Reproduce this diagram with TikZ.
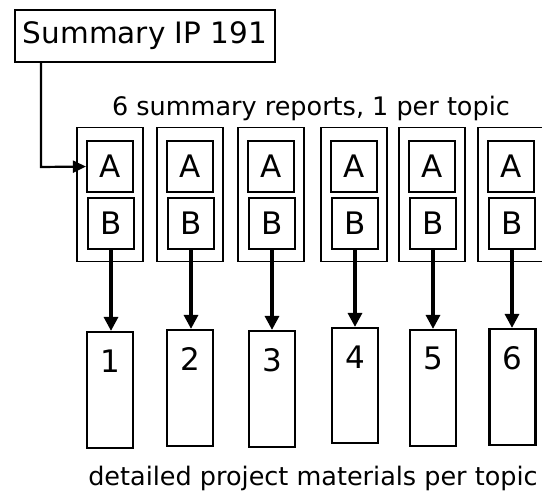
\documentclass[tikz,border=0pt]{standalone}
\usepackage{fontspec}
\setmainfont{DejaVu Sans}
\usetikzlibrary{arrows.meta}

\tikzset{
  part/.style={draw, line width=2.2pt, minimum width=46pt, minimum height=51pt, inner sep=0pt, font=\fontsize{31}{33}\selectfont},
  report/.style={draw, line width=1.8pt, minimum width=66pt, minimum height=134pt, inner sep=0pt},
  topicbox/.style={draw, line width=2.2pt, minimum width=46pt, inner sep=0pt},
  down/.style={line width=3.2pt, -{Triangle[length=14pt,width=14pt]}},
  caption/.style={font=\fontsize{25.5}{27}\selectfont, anchor=base}
}

\begin{document}
\begin{tikzpicture}[x=1pt, y=-1pt]
\useasboundingbox (0,0) rectangle (542,491);
\clip (0,0) rectangle (542,491);

\node[draw, line width=2pt, minimum width=260pt, minimum height=52pt, inner sep=0pt,
      font=\fontsize{29.5}{31}\selectfont] (sum) at (145,36) {Summary IP 191};

\node[caption] (toptext) at (311,115) {6 summary reports, 1 per topic};
\node[caption] (bottomtext) at (313,485) {detailed project materials per topic};

% one column per topic
\foreach \n/\x/\xd/\yd/\hd in {1/110/110/390/116pt, 2/190/190/388/116pt, 3/271/272/389/116pt,
                              4/354/355/385.5/115pt, 5/432/433/388/116pt, 6/511/512.5/387/116pt} {
  \node[report] (out\n) at (\x,194.5) {};
  \node[part] (a\n) at (\x,166.5) {A};
  \node[part] (b\n) at (\x+1,223.5) {B};
  \node[topicbox, minimum height=\hd] (det\n) at (\xd,\yd) {};
  \node[font=\fontsize{31}{33}\selectfont] (num\n) at ([yshift=-30pt]det\n.north) {\n};
  \draw[down] (b\n.south) -- (b\n.south |- det\n.north);
};

\coordinate (bend) at (41,167);
\draw[line width=2.2pt, -{Triangle[length=13pt,width=12pt]}] (sum.south -| bend) -- (bend) -- (a1.west);
\end{tikzpicture}
\end{document}
